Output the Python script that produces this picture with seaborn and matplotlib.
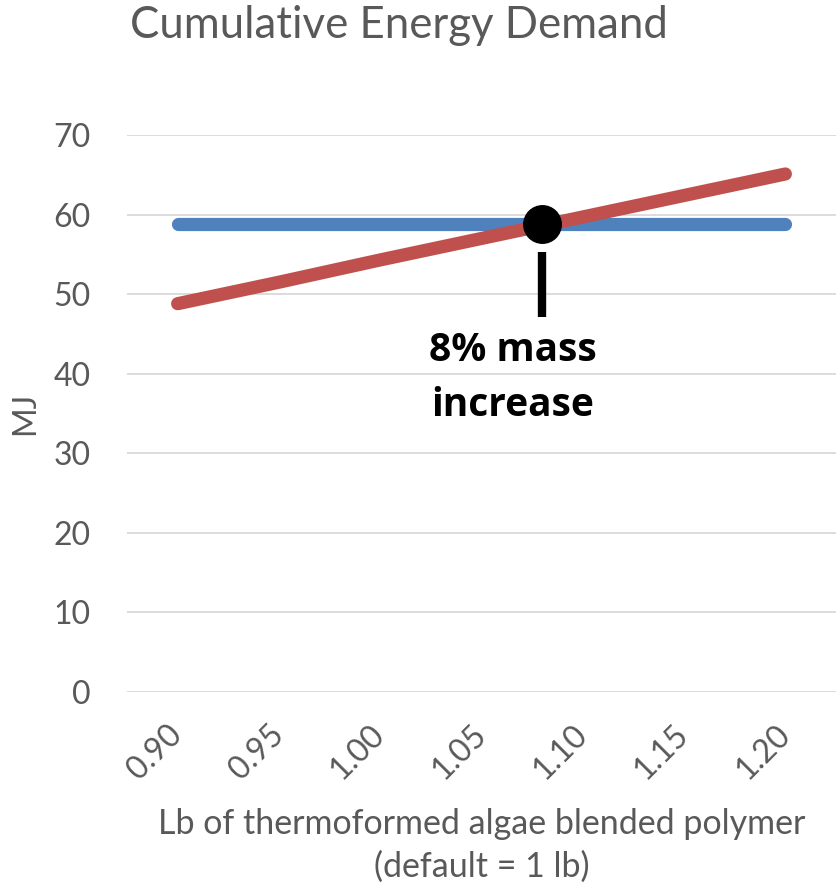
import matplotlib
matplotlib.use("Agg")
import matplotlib.pyplot as plt
import seaborn as sns
import pandas as pd

# Mass of blended polymer (lb) and cumulative energy demand (MJ)
mass_lb = [0.90, 0.95, 1.00, 1.05, 1.10, 1.15, 1.20]
ced_baseline = [58.8, 58.8, 58.8, 58.8, 58.8, 58.8, 58.8]
ced_algae = [48.8, 51.5, 54.3, 57.0, 59.7, 62.4, 65.1]
tick_labels = ["0.90", "0.95", "1.00", "1.05", "1.10", "1.15", "1.20"]
y_ticks = [0, 10, 20, 30, 40, 50, 60, 70]
breakeven_mass = 1.08
breakeven_ced = 58.8

sns.set_theme(style="white")
plt.rcParams["font.family"] = ["Lato", "DejaVu Sans"]

text_color = "#595959"
grid_color = "#D9D9D9"
blue = "#4F81BD"
red = "#C0504D"

df = pd.DataFrame({
    "mass": mass_lb * 2,
    "ced": ced_baseline + ced_algae,
    "series": ["Baseline"] * len(mass_lb) + ["Algae blend"] * len(mass_lb),
})

fig = plt.figure(figsize=(8.36, 8.92), dpi=100)
ax = fig.add_axes([127 / 836, 200 / 892, 709 / 836, 557 / 892])

for ycoord in y_ticks:
    ax.axhline(ycoord, color=grid_color, lw=1.3, zorder=0)

sns.lineplot(data=df, x="mass", y="ced", hue="series",
             palette={"Baseline": blue, "Algae blend": red},
             hue_order=["Baseline", "Algae blend"],
             lw=9.5, ax=ax, legend=False, zorder=3,
             solid_capstyle="round")

ax.plot([breakeven_mass], [breakeven_ced], "o", color="black",
        markersize=27, zorder=5)
ax.plot([breakeven_mass, breakeven_mass], [47.1, 55.3], color="black",
        lw=6, solid_capstyle="butt", zorder=5)
ax.text(1.0655, 45.4, "8% mass\nincrease", ha="center", va="top",
        fontsize=28, fontweight="bold", color="black", linespacing=1.55,
        family=["Open Sans", "DejaVu Sans"])

ax.set_xlim(0.875, 1.225)
ax.set_ylim(0, 70)
ax.set_xticks(mass_lb)
ax.set_xticklabels(tick_labels, rotation=45, ha="right", va="center",
                   rotation_mode="anchor")
ax.set_yticks(y_ticks)
ax.tick_params(axis="both", length=0, labelsize=23, colors=text_color)
ax.tick_params(axis="x", pad=27)
ax.tick_params(axis="y", pad=26)

for side in ["top", "right", "left", "bottom"]:
    ax.spines[side].set_visible(False)

ax.set_xlabel("Lb of thermoformed algae blended polymer\n(default = 1 lb)",
              fontsize=24.5, color=text_color, labelpad=17, linespacing=1.4)
ax.set_ylabel("MJ", fontsize=23, color=text_color, labelpad=10)

fig.text(130 / 836, 1 - 25 / 892, "Cumulative Energy Demand", ha="left",
         va="center", fontsize=31.5, color=text_color)

fig.savefig("out.png", dpi=100)
